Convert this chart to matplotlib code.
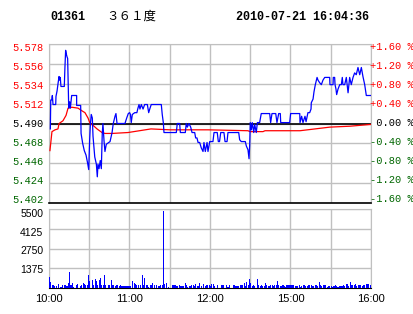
import matplotlib.pyplot as plt
from matplotlib.transforms import ScaledTranslation, blended_transform_factory
import numpy as np

# --- data ---
prev_close = 5.490
price_ticks = [5.402, 5.424, 5.446, 5.468, 5.490, 5.512, 5.534, 5.556, 5.578]
pct_labels = ['-1.60 %', '-1.20 %', '-0.80 %', '-0.40 %', ' 0.00 %',
              '+0.40 %', '+0.80 %', '+1.20 %', '+1.60 %']
vol_ticks = [1375, 2750, 4125, 5500]
time_ticks = [0, 60, 120, 180, 240]
time_labels = ['10:00', '11:00', '12:00', '15:00', '16:00']

# minutes since open -> last price
price_t = [1.0, 1.3, 2.0, 2.5, 3.0, 5.0, 5.2, 6.0, 6.5, 6.9, 7.5, 8.0, 8.4, 8.9, 11.4,
           11.9, 12.4, 12.9, 13.4, 13.9, 14.7, 15.4, 15.9, 16.9, 20.6, 20.6, 23.6, 23.9,
           25.1, 26.3, 27.6, 28.8, 29.6, 30.0, 30.3, 30.8, 31.5, 32.3, 32.8, 34.1, 35.3,
           36.0, 36.5, 37.3, 38.2, 39.0, 39.7, 40.2, 41.0, 41.7, 42.7, 45.5, 47.0, 47.9,
           49.2, 49.9, 50.7, 56.6, 57.9, 59.1,
           60.1, 60.7, 61.3, 62.1, 63.9, 65.5, 66.3, 67.1, 67.8, 68.8, 70.1, 71.3, 73.3,
           74.3, 75.3, 76.2, 83.7, 84.4, 85.2, 85.7, 94.9, 95.6, 97.4, 97.9, 101.6, 102.3,
           103.1, 104.3, 105.6, 106.6, 108.6, 109.3, 110.3, 111.1, 112.3, 113.5, 114.8,
           115.5, 116.5, 117.8, 118.5,
           119.8, 122.2, 123.0, 125.4, 126.2, 127.1, 128.0, 130.4, 131.2, 132.7, 133.4,
           141.4, 142.1, 143.3, 146.3, 147.1, 148.3, 149.1, 149.6, 150.0, 150.8, 151.5,
           152.6, 153.3, 154.5, 155.3, 157.0, 158.2, 164.5, 165.2, 166.2, 169.0, 169.9,
           171.2, 172.4, 172.7, 179.4, 180.1,
           186.9, 187.1, 188.3, 189.3, 190.8, 191.6, 193.0, 194.3, 195.3, 195.5, 196.8,
           197.5, 198.5, 199.8, 200.5, 201.8, 203.0, 204.2, 205.5, 209.2, 209.4, 211.7,
           211.9, 212.9, 213.2, 213.9, 214.4, 215.4, 216.7, 217.9, 218.6, 219.1, 220.4,
           221.6, 222.9, 224.1, 225.3, 226.6, 227.8, 229.0, 230.3, 231.6, 232.8, 234.0,
           235.3, 236.5, 240.0]
price_v = [5.484, 5.516, 5.516, 5.521, 5.511, 5.511, 5.520, 5.526, 5.532, 5.536, 5.542,
           5.538, 5.541, 5.531, 5.531, 5.553, 5.571, 5.567, 5.564, 5.562, 5.507, 5.514,
           5.507, 5.521, 5.521, 5.510, 5.510, 5.479, 5.468, 5.460, 5.455, 5.446, 5.439,
           5.457, 5.472, 5.488, 5.500, 5.496, 5.476, 5.453, 5.445, 5.431, 5.445, 5.440,
           5.449, 5.440, 5.479, 5.490, 5.471, 5.459, 5.467, 5.470, 5.480, 5.490, 5.498,
           5.501, 5.490, 5.490, 5.496, 5.501,
           5.502, 5.500, 5.491, 5.500, 5.502, 5.502, 5.507, 5.511, 5.506, 5.511, 5.506,
           5.511, 5.511, 5.502, 5.507, 5.511, 5.511, 5.500, 5.491, 5.480, 5.480, 5.490,
           5.490, 5.480, 5.480, 5.490, 5.486, 5.490, 5.486, 5.480, 5.480, 5.474, 5.474,
           5.469, 5.469, 5.463, 5.459, 5.469, 5.459, 5.469, 5.459,
           5.470, 5.470, 5.480, 5.480, 5.470, 5.470, 5.480, 5.480, 5.470, 5.470, 5.480,
           5.480, 5.472, 5.470, 5.470, 5.465, 5.461, 5.451, 5.467, 5.491, 5.483, 5.491,
           5.480, 5.489, 5.480, 5.491, 5.491, 5.501, 5.501, 5.491, 5.501, 5.501, 5.491,
           5.501, 5.501, 5.491, 5.491, 5.501,
           5.501, 5.491, 5.498, 5.491, 5.498, 5.492, 5.502, 5.502, 5.506, 5.513, 5.517,
           5.525, 5.533, 5.541, 5.538, 5.535, 5.533, 5.538, 5.541, 5.541, 5.533, 5.533,
           5.541, 5.541, 5.533, 5.528, 5.522, 5.528, 5.533, 5.533, 5.541, 5.533, 5.533,
           5.541, 5.524, 5.541, 5.533, 5.541, 5.546, 5.544, 5.552, 5.544, 5.552, 5.542,
           5.533, 5.521, 5.521]

# average price line
avg_t = [0.7, 1.5, 2.2, 4.5, 6.7, 7.5, 10.4, 12.7, 14.2, 17.1, 21.6, 24.6, 26.8, 29.1,
         30.6, 32.8, 35.8, 39.5, 41.7, 47.0, 58.9, 76.0, 90.2, 118.5, 148.3, 149.8,
         159.5, 161.0, 187.1, 209.4, 224.3, 240.0]
avg_v = [5.460, 5.471, 5.481, 5.483, 5.484, 5.490, 5.493, 5.499, 5.507, 5.508, 5.507,
         5.504, 5.502, 5.496, 5.490, 5.488, 5.484, 5.480, 5.479, 5.479, 5.480, 5.484,
         5.483, 5.483, 5.482, 5.481, 5.481, 5.482, 5.482, 5.486, 5.487, 5.489]

# volume per minute, 10:00-12:00 and 12:01-16:00 on the chart
vol_am = [770, 420, 185, 230, 115, 115, 0, 280, 70, 70,
          185, 185, 230, 115, 350, 1110, 185, 350, 70, 0,
          230, 280, 0, 115, 185, 350, 280, 185, 185, 880,
          460, 0, 580, 185, 650, 510, 185, 580, 700, 185,
          185, 880, 230, 0, 230, 185, 580, 230, 185, 115,
          185, 185, 115, 185, 115, 115, 115, 115, 115, 115,
          115, 0, 460, 350, 280, 185, 230, 0, 230, 880,
          230, 700, 230, 230, 70, 185, 185, 350, 185, 0,
          185, 115, 115, 230, 230, 5380, 280, 350, 0, 70,
          0, 0, 230, 185, 185, 115, 0, 185, 115, 115,
          115, 350, 185, 70, 115, 115, 185, 185, 115, 280,
          115, 115, 350, 115, 0, 280, 115, 185, 230, 230,
          115]
vol_pm = [280, 280, 115, 0, 230, 0, 0, 185, 185, 185,
          0, 230, 70, 185, 0, 0, 185, 185, 115, 115,
          115, 185, 185, 230, 350, 115, 420, 185, 650, 350,
          115, 185, 115, 0, 650, 185, 115, 185, 115, 115,
          350, 230, 115, 115, 230, 185, 115, 185, 185, 460,
          185, 115, 115, 230, 115, 70, 185, 230, 185, 185,
          230, 185, 115, 115, 115, 185, 70, 115, 185, 185,
          115, 115, 230, 230, 185, 115, 115, 230, 230, 115,
          420, 230, 115, 230, 185, 185, 70, 115, 115, 115,
          70, 115, 230, 115, 70, 115, 115, 115, 185, 115,
          280, 280, 115, 420, 230, 230, 185, 280, 115, 185,
          185, 230, 115, 185, 185, 280, 280, 280, 230]
volume = vol_am + vol_pm

GRID = '#c0c0c0'
GREEN = '#006600'
mono = 'Liberation Mono'
sans = 'Liberation Sans'

fig = plt.figure(figsize=(4.14, 3.14), dpi=100)
ax = fig.add_axes([49 / 414, 1 - 203 / 314, 322 / 414, 159 / 314])
axv = fig.add_axes([49 / 414, 1 - 288 / 314, 322 / 414, 79 / 314])


def shift(dx_px, dy_px):
    # pixel offset, y positive = downwards
    return ScaledTranslation(dx_px / 100, -dy_px / 100, fig.dpi_scale_trans)


# price panel
ax.set_xlim(0, 240)
ax.set_ylim(price_ticks[0], price_ticks[-1])
ax.set_xticks(np.arange(0, 241, 30))
ax.set_xticklabels([])
ax.set_yticks(price_ticks)
ax.set_yticklabels([f'{p:.3f}' for p in price_ticks], family=mono, fontsize=7.5)
ax.tick_params(length=0, pad=4)
ax.grid(color=GRID, lw=1)


def label_color(p):
    if abs(p - prev_close) < 1e-9:
        return 'black'
    return 'red' if p > prev_close else GREEN


for i, (lab, p) in enumerate(zip(ax.get_yticklabels(), price_ticks)):
    lab.set_color(label_color(p))
    lab.set_transform(lab.get_transform() + shift(0, -4 + 7 * i / 8))
for s in ['top', 'left', 'right']:
    ax.spines[s].set_color(GRID)
ax.spines['bottom'].set_color('black')
ax.spines['bottom'].set_linewidth(1.2)
ax.axhline(prev_close, color='black', lw=1.2, zorder=2)

trans = blended_transform_factory(ax.transAxes, ax.transData)
for i, (p, lab) in enumerate(zip(price_ticks, pct_labels)):
    ax.text(1.0, p, lab, transform=trans + shift(-1, -4 + 7 * i / 8),
            ha='left', va='center', family=mono, fontsize=7.5,
            color=label_color(p), clip_on=False)

ax.plot(avg_t, avg_v, color='red', lw=0.9, zorder=3)
ax.plot(price_t, price_v, color='blue', lw=0.9, zorder=4)

# volume panel
axv.set_xlim(0, 240)
axv.set_ylim(0, 5500)
axv.bar(np.arange(len(volume)), volume, width=0.8, align='edge', color='blue', lw=0, zorder=3)
axv.set_xticks(np.arange(0, 241, 30), minor=True)
axv.set_xticks(time_ticks)
axv.set_xticklabels(time_labels, family=sans, fontsize=8)
axv.set_yticks(vol_ticks)
axv.set_yticklabels([str(v) for v in vol_ticks], family=sans, fontsize=7.5)
axv.tick_params(which='both', length=0)
axv.tick_params(axis='y', pad=4)
axv.tick_params(axis='x', pad=4)
axv.grid(which='both', color=GRID, lw=1)
for i, lab in enumerate(axv.get_yticklabels()):
    lab.set_transform(lab.get_transform() + shift(0, 1 + i))
for s in ['top', 'left', 'right']:
    axv.spines[s].set_color(GRID)
axv.spines['bottom'].set_color('black')

# header
fig.text(50 / 414, 1 - 17 / 314, '01361', family=mono, weight='bold', fontsize=8.5, va='center')
fig.text(106 / 414, 1 - 16 / 314, '３６１度', family=['Noto Sans CJK SC', 'DejaVu Sans'],
         fontsize=9, va='center')
fig.text(236 / 414, 1 - 17 / 314, '2010-07-21 16:04:36', family=mono, weight='bold',
         fontsize=8.5, va='center')

fig.savefig('out.png', dpi=100)
